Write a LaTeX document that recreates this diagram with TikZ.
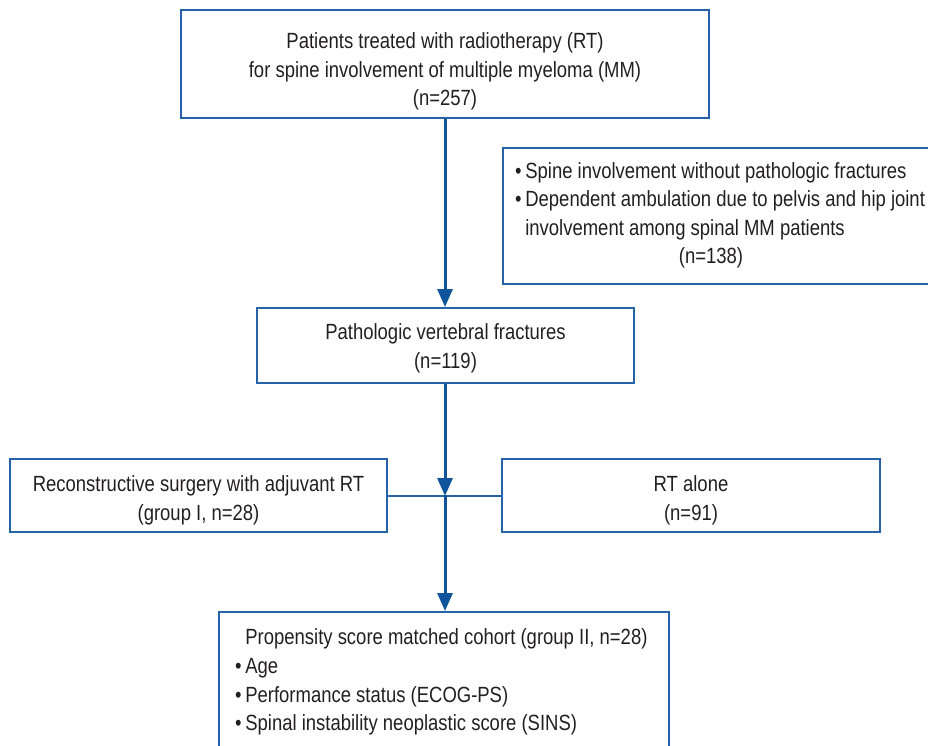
\documentclass[tikz,border=0pt]{standalone}
\usepackage{fontspec}
\setmainfont{Liberation Sans}[FakeStretch=0.84]
\usetikzlibrary{arrows.meta}
\definecolor{arrowblue}{RGB}{16,84,155}
\definecolor{boxblue}{RGB}{38,98,168}
\definecolor{txt}{RGB}{35,31,32}
\tikzset{
  box/.style={draw=boxblue, line width=2pt, inner sep=0pt},
  flow/.style={draw=arrowblue, line width=3pt, -{Triangle[length=18pt,width=15pt]}},
  joinline/.style={draw=boxblue, line width=2pt},
  lbl/.style={inner sep=0pt, text=txt, align=center},
}
\begin{document}
\begin{tikzpicture}[x=1pt,y=-1pt,font=\fontsize{22}{28.6}\selectfont]
\useasboundingbox (0,0) rectangle (928,745);
\node[box, minimum width=528pt, minimum height=108pt] (top) at (445,64) {};
\node[lbl] (toptxt) at (445,71.5)
  {Patients treated with radiotherapy (RT)\\for spine involvement of multiple myeloma (MM)\\(n=257)};
\node[box, minimum width=440pt, minimum height=136pt, anchor=north west] (excl) at (502,147) {};
\node[lbl, align=left, anchor=west] (excltxt) at (515,201)
  {•\,Spine involvement without pathologic fractures\\•\,Dependent ambulation due to pelvis and hip joint\\\hphantom{•\,}involvement among spinal MM patients};
\node[lbl] (excln) at (711,258) {(n=138)};
\node[box, minimum width=377pt, minimum height=75pt] (mid) at (445.5,345.5) {};
\node[lbl] (midtxt) at (445.5,348.5) {Pathologic vertebral fractures\\(n=119)};
\node[box, minimum width=377pt, minimum height=73pt] (left) at (198.5,495.5) {};
\node[lbl] (lefttxt) at (198.5,500.5) {Reconstructive surgery with adjuvant RT\\(group I, n=28)};
\node[box, minimum width=378pt, minimum height=73pt] (right) at (691,495.5) {};
\node[lbl] (righttxt) at (691,500.5) {RT alone\\(n=91)};
\node[box, minimum width=450pt, minimum height=160pt, anchor=north west] (bot) at (218,611) {};
\node[lbl, align=left, anchor=west] (bottxt) at (235,682)
  {\hphantom{•\,}Propensity score matched cohort (group II, n=28)\\•\,Age\\•\,Performance status (ECOG-PS)\\•\,Spinal instability neoplastic score (SINS)};
\coordinate (j) at (445,496);
\draw[joinline] (left.east) -- (right.west);
\draw[flow] (top.south -| 445,0) -- (mid.north -| 445,0);
\draw[flow] (mid.south -| 445,0) -- (j);
\draw[flow] (j) -- (bot.north -| 445,0);
\end{tikzpicture}
\end{document}
